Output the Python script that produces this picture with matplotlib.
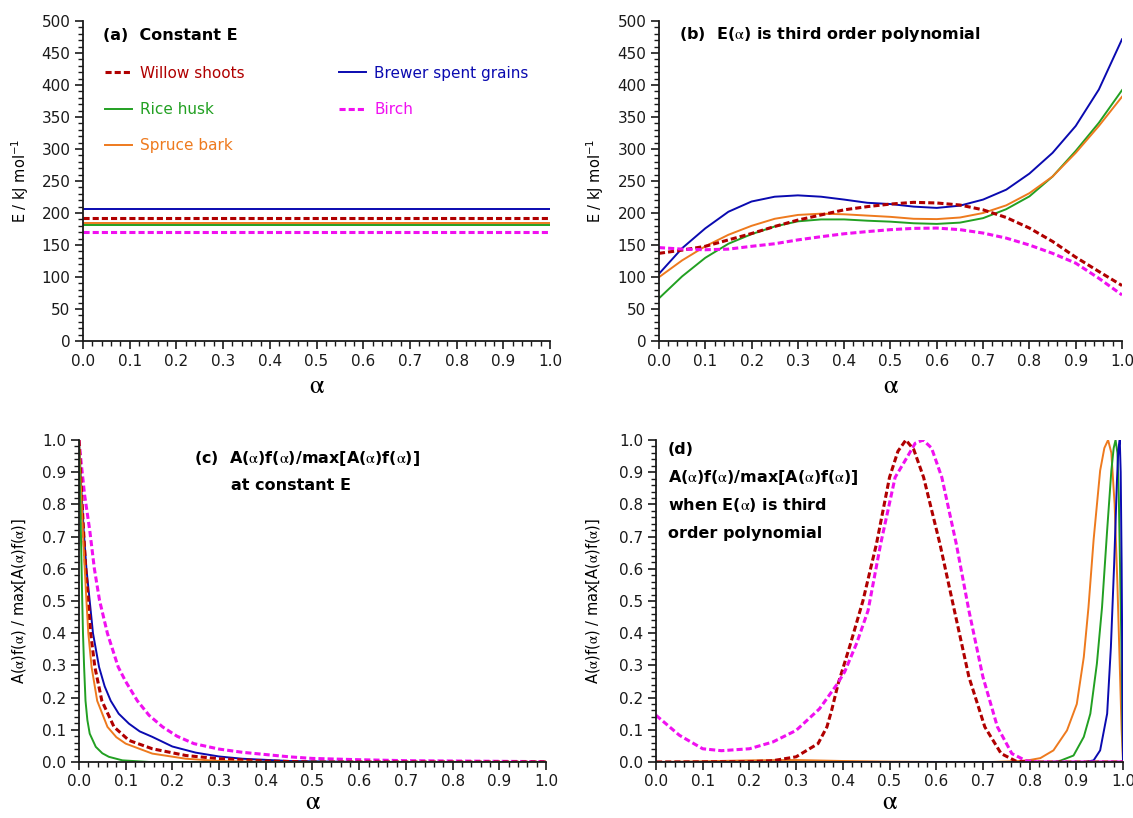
import matplotlib
matplotlib.use("Agg")
import matplotlib.pyplot as plt
from matplotlib.ticker import MultipleLocator

plt.rcParams["font.family"] = ["DejaVu Sans"]
plt.rcParams["mathtext.fontset"] = "stix"

# series names and colours
names = ["Willow shoots", "Rice husk", "Spruce bark", "Brewer spent grains", "Birch"]
colors = {"Willow shoots": "#B00000", "Rice husk": "#22A022", "Spruce bark": "#EE7A1E",
          "Brewer spent grains": "#0A0AB0", "Birch": "#F010F0"}
dashed = {"Willow shoots", "Birch"}

# (a) constant activation energies, kJ/mol
e_const = {"Willow shoots": 193, "Rice husk": 181, "Spruce bark": 184,
           "Brewer spent grains": 206, "Birch": 171}

# (b) E(alpha) read at alpha = 0, 0.05, ..., 1.0
alpha_b = [0.0, 0.05, 0.1, 0.15, 0.2, 0.25, 0.3, 0.35, 0.4, 0.45, 0.5,
           0.55, 0.6, 0.65, 0.7, 0.75, 0.8, 0.85, 0.9, 0.95, 1.0]
e_willow = [137, 142, 148, 158, 168, 179, 189, 197, 205, 210, 214,
            216.7, 215.7, 212.5, 205, 193, 176.5, 155.6, 131, 108.6, 86.7]
e_rice = [66.7, 101, 130, 152, 167, 179, 187, 190, 190, 188, 186.5,
          184, 183, 185, 192, 206, 226, 257, 297, 341, 392]
e_spruce = [99.7, 126, 148, 166, 180, 191, 197, 199, 198, 196, 194,
            191, 190.5, 193, 200, 212, 231, 257, 294, 336, 381.7]
e_brewer = [105, 145, 176, 202, 218, 225.5, 227.6, 225.5, 221, 216, 214,
            210, 208, 211.5, 221, 236.5, 261.6, 294, 336, 393, 471.5]
e_birch = [146, 143.6, 142.6, 143.6, 148, 152, 158, 163, 167.6, 171, 174,
           176, 176.5, 174, 168.7, 160.8, 150, 137, 121.7, 98, 72]
e_poly = {"Willow shoots": e_willow, "Rice husk": e_rice, "Spruce bark": e_spruce,
          "Brewer spent grains": e_brewer, "Birch": e_birch}

# (c) normalised A(alpha)f(alpha) at constant E
c_willow_x = [0.0, 0.004, 0.009, 0.014, 0.02, 0.025, 0.034, 0.049, 0.075, 0.107, 0.157,
              0.229, 0.3, 0.4, 0.5, 1.0]
c_willow_y = [1.0, 0.88, 0.74, 0.61, 0.5, 0.4, 0.295, 0.19, 0.109, 0.067, 0.041,
              0.02, 0.01, 0.003, 0.0, 0.0]
c_rice_x = [0.0, 0.002, 0.004, 0.007, 0.0086, 0.011, 0.014, 0.018, 0.023, 0.036, 0.05,
            0.064, 0.093, 0.15, 1.0]
c_rice_y = [1.0, 0.86, 0.72, 0.5, 0.4, 0.295, 0.19, 0.13, 0.088, 0.047, 0.027,
            0.016, 0.005, 0.0, 0.0]
c_spruce_x = [0.0, 0.003, 0.006, 0.0095, 0.016, 0.02, 0.027, 0.039, 0.061, 0.08, 0.1,
              0.157, 0.229, 0.3, 0.4, 1.0]
c_spruce_y = [1.0, 0.89, 0.79, 0.68, 0.5, 0.4, 0.295, 0.19, 0.109, 0.077, 0.057,
              0.026, 0.01, 0.003, 0.0, 0.0]
c_brewer_x = [0.0, 0.005, 0.01, 0.016, 0.023, 0.03, 0.043, 0.055, 0.068, 0.085, 0.107,
              0.13, 0.157, 0.2, 0.25, 0.3, 0.35, 0.45, 0.6, 1.0]
c_brewer_y = [1.0, 0.85, 0.72, 0.6, 0.5, 0.4, 0.295, 0.235, 0.19, 0.15, 0.119,
              0.095, 0.078, 0.048, 0.029, 0.017, 0.01, 0.003, 0.0, 0.0]
c_birch_x = [0.0, 0.005, 0.012, 0.023, 0.033, 0.044, 0.061, 0.084, 0.1, 0.125, 0.15,
             0.179, 0.21, 0.246, 0.3, 0.35, 0.4, 0.45, 0.5, 0.6, 0.7, 0.8, 0.9, 1.0]
c_birch_y = [1.0, 0.925, 0.83, 0.72, 0.6, 0.502, 0.399, 0.295, 0.25, 0.19, 0.145,
             0.109, 0.08, 0.057, 0.04, 0.03, 0.023, 0.016, 0.011, 0.007, 0.004, 0.003,
             0.002, 0.001]
c_curves = {"Willow shoots": (c_willow_x, c_willow_y), "Rice husk": (c_rice_x, c_rice_y),
            "Spruce bark": (c_spruce_x, c_spruce_y),
            "Brewer spent grains": (c_brewer_x, c_brewer_y), "Birch": (c_birch_x, c_birch_y)}

# (d) normalised A(alpha)f(alpha) for the cubic E(alpha)
d_willow_x = [0.0, 0.2, 0.25, 0.3, 0.347, 0.366, 0.376, 0.39, 0.415, 0.443, 0.472, 0.5,
              0.518, 0.535, 0.552, 0.573, 0.608, 0.639, 0.67, 0.704, 0.739, 0.77, 0.8, 1.0]
d_willow_y = [0.0, 0.001, 0.004, 0.016, 0.057, 0.109, 0.16, 0.243, 0.36, 0.5, 0.677, 0.884,
              0.965, 1.0, 0.97, 0.884, 0.677, 0.47, 0.264, 0.109, 0.026, 0.003, 0.0, 0.0]
d_rice_x = [0.0, 0.85, 0.866, 0.894, 0.916, 0.93, 0.944, 0.955, 0.966, 0.975, 0.98,
            0.984, 0.988, 0.991, 0.996, 1.0]
d_rice_y = [0.0, 0.0, 0.004, 0.02, 0.078, 0.15, 0.305, 0.48, 0.72, 0.905, 0.975,
            1.0, 0.96, 0.82, 0.41, 0.0]
d_spruce_x = [0.0, 0.1, 0.2, 0.3, 0.4, 0.5, 0.6, 0.72, 0.78, 0.8, 0.823, 0.851, 0.88,
              0.901, 0.916, 0.926, 0.937, 0.951, 0.96, 0.968, 0.975, 0.982, 0.988,
              0.993, 0.997, 1.0]
d_spruce_y = [0.0, 0.002, 0.005, 0.006, 0.003, 0.001, 0.0, 0.0, 0.003, 0.006, 0.012,
              0.036, 0.098, 0.18, 0.326, 0.48, 0.69, 0.905, 0.975, 1.0, 0.96, 0.8,
              0.55, 0.3, 0.1, 0.0]
d_brewer_x = [0.0, 0.92, 0.937, 0.951, 0.966, 0.974, 0.981, 0.987, 0.99, 0.993,
              0.995, 0.997, 1.0]
d_brewer_y = [0.0, 0.0, 0.005, 0.036, 0.15, 0.357, 0.615, 0.874, 0.97, 1.0,
              0.9, 0.615, 0.0]
d_birch_x = [0.0, 0.05, 0.1, 0.14, 0.2, 0.25, 0.3, 0.35, 0.387, 0.404, 0.43, 0.454,
             0.481, 0.512, 0.535, 0.555, 0.572, 0.59, 0.612, 0.643, 0.67, 0.7, 0.731,
             0.762, 0.792, 0.82, 1.0]
d_birch_y = [0.145, 0.083, 0.041, 0.035, 0.041, 0.062, 0.098, 0.165, 0.24, 0.28, 0.37,
             0.47, 0.677, 0.884, 0.94, 0.99, 1.0, 0.975, 0.884, 0.677, 0.47, 0.264,
             0.109, 0.026, 0.004, 0.0, 0.0]
d_curves = {"Willow shoots": (d_willow_x, d_willow_y), "Rice husk": (d_rice_x, d_rice_y),
            "Spruce bark": (d_spruce_x, d_spruce_y),
            "Brewer spent grains": (d_brewer_x, d_brewer_y), "Birch": (d_birch_x, d_birch_y)}

ALPHA = r"$\mathrm{\alpha}$"
AF = rf"A({ALPHA})f({ALPHA})"


def style(name):
    if name in dashed:
        return dict(color=colors[name], lw=2.2, ls=(0, (2.0, 1.0)))
    return dict(color=colors[name], lw=1.4, ls="-")


def setup_axes(ax, ymax, ymajor, yminor, ylabel, ylab_x, xlab_y):
    ax.set_xlim(0, 1.0)
    ax.set_ylim(0, ymax)
    ax.xaxis.set_major_locator(MultipleLocator(0.1))
    ax.xaxis.set_minor_locator(MultipleLocator(0.02))
    ax.yaxis.set_major_locator(MultipleLocator(ymajor))
    ax.yaxis.set_minor_locator(MultipleLocator(yminor))
    ax.xaxis.set_major_formatter(plt.FormatStrFormatter("%.1f"))
    for s in ("top", "right"):
        ax.spines[s].set_visible(False)
    for s in ("left", "bottom"):
        ax.spines[s].set_linewidth(1.3)
        ax.spines[s].set_color("#1a1a1a")
    ax.tick_params(which="major", direction="out", length=6, width=1.2,
                   labelsize=11, pad=3, colors="#1a1a1a")
    ax.tick_params(which="minor", direction="out", length=3.5, width=1.0, colors="#1a1a1a")
    ax.set_xlabel(ALPHA, fontsize=19)
    ax.xaxis.set_label_coords(0.5, xlab_y)
    ax.set_ylabel(ylabel, fontsize=10.5)
    ax.yaxis.set_label_coords(ylab_x, 0.5)


fig = plt.figure(figsize=(11.33, 8.18), dpi=100)
ax_a = fig.add_axes([0.0733, 0.5831, 0.4122, 0.3912])
ax_b = fig.add_axes([0.5816, 0.5831, 0.4087, 0.3912])
ax_c = fig.add_axes([0.0697, 0.0685, 0.4122, 0.3936])
ax_d = fig.add_axes([0.5790, 0.0685, 0.4122, 0.3936])

e_label = r"E / kJ mol$^{\mathregular{-1}}$"
# (a) constant E
handles = {}
for name in ["Brewer spent grains", "Willow shoots", "Spruce bark", "Rice husk", "Birch"]:
    (ln,) = ax_a.plot([0, 1], [e_const[name], e_const[name]], label=name, **style(name))
    handles[name] = ln
setup_axes(ax_a, 500, 50, 10, e_label, -0.113, -0.1)
ax_a.text(0.043, 0.956, "(a)  Constant E", transform=ax_a.transAxes,
          fontsize=11.5, fontweight="bold", va="center", ha="left")

leg_kw = dict(loc="upper left", frameon=False, fontsize=11, handlelength=1.75,
              handletextpad=0.55, labelspacing=1.38, borderpad=0, borderaxespad=0)
col1 = ["Willow shoots", "Rice husk", "Spruce bark"]
col2 = ["Brewer spent grains", "Birch"]
leg1 = ax_a.legend([handles[n] for n in col1], col1, bbox_to_anchor=(0.047, 0.86),
                   labelcolor=[colors[n] for n in col1], **leg_kw)
ax_a.add_artist(leg1)
ax_a.legend([handles[n] for n in col2], col2, bbox_to_anchor=(0.548, 0.86),
            labelcolor=[colors[n] for n in col2], **leg_kw)

# (b) third order polynomial E(alpha)
for name in ["Brewer spent grains", "Rice husk", "Spruce bark", "Willow shoots", "Birch"]:
    ax_b.plot(alpha_b, e_poly[name], **style(name))
setup_axes(ax_b, 500, 50, 10, e_label, -0.116, -0.1)
ax_b.text(0.044, 0.958, f"(b)  E({ALPHA}) is third order polynomial", transform=ax_b.transAxes,
          fontsize=11.5, fontweight="bold", va="center", ha="left")

af_label = f"{AF} / max[{AF}]"
# (c) constant E
for name in ["Birch", "Brewer spent grains", "Willow shoots", "Spruce bark", "Rice husk"]:
    x, y = c_curves[name]
    ax_c.plot(x, y, **style(name))
setup_axes(ax_c, 1.0, 0.1, 0.02, af_label, -0.11, -0.085)
ax_c.yaxis.set_major_formatter(plt.FormatStrFormatter("%.1f"))
ax_c.text(0.246, 0.941, f"(c)  {AF}/max[{AF}]", transform=ax_c.transAxes,
          fontsize=11.5, fontweight="bold", va="center", ha="left")
ax_c.text(0.325, 0.86, "at constant E", transform=ax_c.transAxes,
          fontsize=11.5, fontweight="bold", va="center", ha="left")

# (d) polynomial E
for name in ["Spruce bark", "Rice husk", "Brewer spent grains", "Willow shoots", "Birch"]:
    x, y = d_curves[name]
    ax_d.plot(x, y, **style(name))
setup_axes(ax_d, 1.0, 0.1, 0.02, af_label, -0.115, -0.085)
ax_d.yaxis.set_major_formatter(plt.FormatStrFormatter("%.1f"))
d_lines = ["(d)", f"{AF}/max[{AF}]", f"when E({ALPHA}) is third", "order polynomial"]
for txt, yy in zip(d_lines, [0.969, 0.882, 0.798, 0.711]):
    ax_d.text(0.025, yy, txt, transform=ax_d.transAxes,
              fontsize=11.5, fontweight="bold", va="center", ha="left")

fig.savefig("out.png", dpi=100)
